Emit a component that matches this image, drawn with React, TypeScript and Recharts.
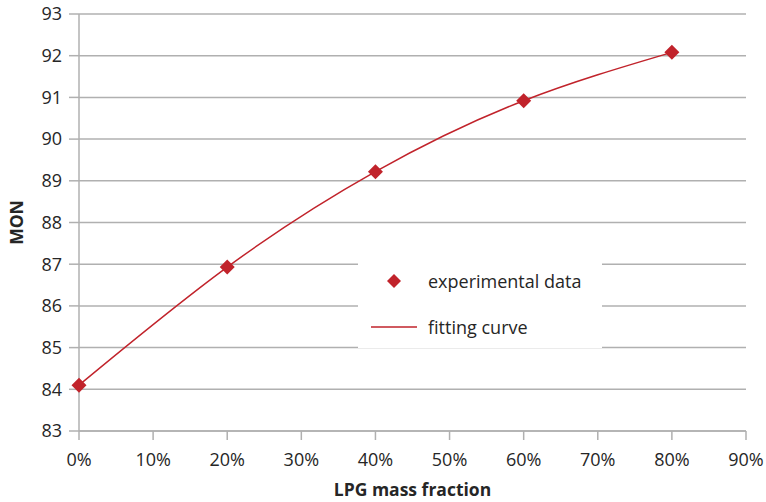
import React from 'react';
import {
  ComposedChart,
  Line,
  Scatter,
  XAxis,
  YAxis,
  CartesianGrid,
} from 'recharts';

// LPG mass fraction (%) and measured MON
const fractions = [0, 20, 40, 60, 80];
const monValues = [84.1, 86.93, 89.22, 90.92, 92.08];

const xTicks = [0, 10, 20, 30, 40, 50, 60, 70, 80, 90];
const yTicks = [83, 84, 85, 86, 87, 88, 89, 90, 91, 92, 93];

const data = fractions.map((f, i) => ({ fraction: f, mon: monValues[i] }));

const RED = '#c1232b';
const GRID = '#b0b0b0';
const FONT = '"Open Sans", sans-serif';

const Diamond = ({ cx, cy }: any) => {
  const r = 7.5;
  return (
    <polygon
      points={`${cx},${cy - r} ${cx + r},${cy} ${cx},${cy + r} ${cx - r},${cy}`}
      fill={RED}
    />
  );
};

// legend box sits over the plot and hides the gridlines behind it
const LegendBox = () => (
  <div
    style={{
      position: 'absolute',
      left: 358,
      top: 262,
      background: '#fff',
      width: 244,
      height: 86,
      fontFamily: FONT,
      fontSize: 18,
      color: '#262626',
      lineHeight: '24px',
    }}
  >
    <svg width={60} height={86} style={{ position: 'absolute', left: 0, top: 0 }}>
      <polygon points="36,12 43,19 36,26 29,19" fill={RED} />
      <line x1={13} y1={65} x2={59} y2={65} stroke={RED} strokeWidth={1.5} />
    </svg>
    <div style={{ position: 'absolute', left: 70, top: 7 }}>experimental data</div>
    <div style={{ position: 'absolute', left: 70, top: 53 }}>fitting curve</div>
  </div>
);

export default function App() {
  return (
    <div style={{ position: 'absolute', left: 0, top: 0, width: 766, height: 502, background: '#fff' }}>
      <ComposedChart
        width={766}
        height={502}
        data={data}
        margin={{ top: 14, right: 20, left: 29, bottom: 31 }}
      >
        <CartesianGrid vertical={false} stroke={GRID} strokeWidth={1.5} />
        <XAxis
          dataKey="fraction"
          type="number"
          domain={[0, 90]}
          ticks={xTicks}
          tickFormatter={(v) => `${v}%`}
          stroke={GRID}
          strokeWidth={1.5}
          tickSize={9}
          tickMargin={13}
          height={40}
          tick={{ fill: '#262626', fontSize: 18, fontFamily: FONT }}
          label={{
            value: 'LPG mass fraction',
            position: 'insideBottom',
            offset: -25,
            style: { fill: '#262626', fontSize: 17.5, fontWeight: 700, fontFamily: FONT },
          }}
        />
        <YAxis
          type="number"
          domain={[83, 93]}
          ticks={yTicks}
          stroke={GRID}
          strokeWidth={1.5}
          tickSize={10}
          tickMargin={7}
          width={50}
          tick={{ fill: '#262626', fontSize: 18, fontFamily: FONT }}
          label={{
            value: 'MON',
            angle: -90,
            position: 'insideLeft',
            offset: -12,
            style: { fill: '#262626', fontSize: 17.5, fontWeight: 700, fontFamily: FONT, textAnchor: 'middle' },
          }}
        />
        <Line
          dataKey="mon"
          type="natural"
          stroke={RED}
          strokeWidth={1.5}
          dot={false}
          activeDot={false}
          isAnimationActive={false}
          name="fitting curve"
        />
        <Scatter
          dataKey="mon"
          fill={RED}
          shape={<Diamond />}
          isAnimationActive={false}
          name="experimental data"
        />
      </ComposedChart>
      <LegendBox />
    </div>
  );
}
